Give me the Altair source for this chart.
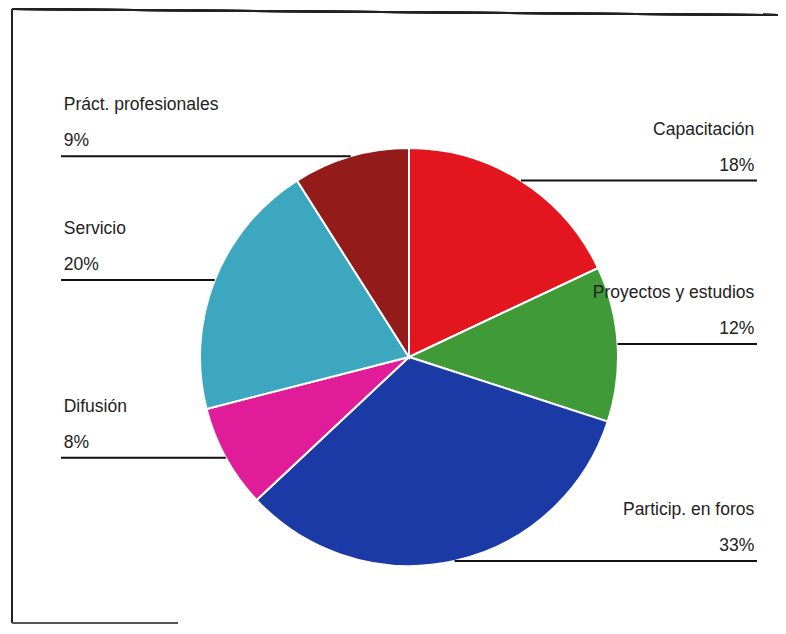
import altair as alt
import numpy as np
import pandas as pd

# ---- data ----
categories = ["Capacitación", "Proyectos y estudios", "Particip. en foros",
              "Difusión", "Servicio", "Práct. profesionales"]
values = [18, 12, 33, 8, 20, 9]
colors = ["#e3161f", "#3f9a37", "#1c3aa6", "#e01c98", "#3ca7bf", "#931b1a"]

# ---- layout (pixels, plot coordinates) ----
W, H = 770, 616
CX, CY, R = 401, 349, 209
LINE_END = 1.665     # leader line end, in radius units
TEXT_END = 1.652

df = pd.DataFrame({"cat": categories, "value": values, "idx": range(len(values))})
cum = np.cumsum(values)
mid = (cum - np.array(values) / 2) / sum(values) * 2 * np.pi
df["lx"] = np.sin(mid)
df["ly"] = -np.cos(mid)
df["side"] = np.where(df["lx"] > 0, "right", "left")
df["ex"] = np.where(df["lx"] > 0, LINE_END, -LINE_END)
df["tx"] = np.where(df["lx"] > 0, TEXT_END, -TEXT_END)
df["pct"] = [f"{v}%" for v in values]

base = alt.Chart(df)

xs = alt.Scale(domain=[-1, 1], range=[CX - R, CX + R], nice=False, zero=False)
ys = alt.Scale(domain=[-1, 1], range=[CY - R, CY + R], nice=False, zero=False)

pie = base.mark_arc(radius=R, stroke="white", strokeWidth=2).encode(
    theta=alt.Theta("value:Q", stack=True),
    order=alt.Order("idx:Q"),
    color=alt.Color("cat:N", scale=alt.Scale(domain=categories, range=colors), legend=None),
    x=alt.value(CX),
    y=alt.value(CY),
)

leaders = base.mark_rule(color="#111", strokeWidth=2).encode(
    x=alt.X("lx:Q", scale=xs, axis=None),
    x2="ex:Q",
    y=alt.Y("ly:Q", scale=ys, axis=None),
)

font = dict(font="Liberation Sans", fontSize=17.5, color="#222", baseline="alphabetic")

def labels(side, align):
    b = base.transform_filter(alt.datum.side == side)
    name = b.mark_text(align=align, dy=-46, **font).encode(
        x=alt.X("tx:Q", scale=xs, axis=None),
        y=alt.Y("ly:Q", scale=ys, axis=None),
        text="cat:N",
    )
    pct = b.mark_text(align=align, dy=-10, **font).encode(
        x=alt.X("tx:Q", scale=xs, axis=None),
        y=alt.Y("ly:Q", scale=ys, axis=None),
        text="pct:N",
    )
    return name + pct

# decorative frame of the scanned page
frame_top = alt.Chart(df).mark_rule(color="#222", strokeWidth=2).encode(
    x=alt.value(4), x2=alt.value(770), y=alt.value(1), y2=alt.value(7))
frame_left = alt.Chart(df).mark_rule(color="#222", strokeWidth=2).encode(
    x=alt.value(4), y=alt.value(1), y2=alt.value(615))
frame_bottom = alt.Chart(df).mark_rule(color="#555", strokeWidth=2).encode(
    x=alt.value(4), x2=alt.value(170), y=alt.value(615))

chart = alt.layer(
    frame_top, frame_left, frame_bottom,
    pie, leaders, labels("right", "right"), labels("left", "left"),
).properties(
    width=W, height=H, padding=0, autosize=alt.AutoSizeParams(type="none"),
).configure_view(stroke=None)

chart.save("out.html", embed_options={"renderer": "svg", "actions": False})
